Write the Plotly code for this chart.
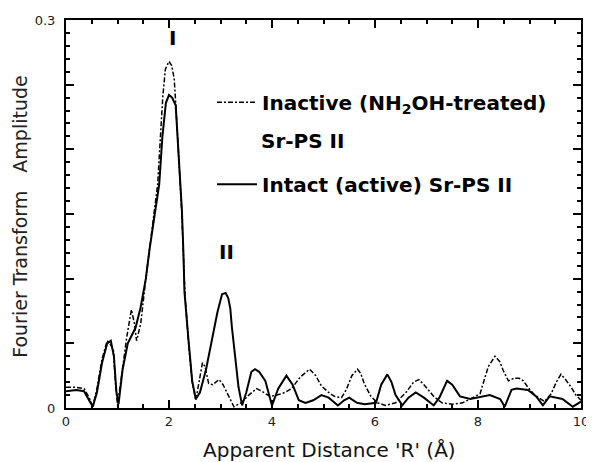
import plotly.graph_objects as go

# Intact (active) Sr-PS II  (solid)
r_intact = [0.00, 0.20, 0.35, 0.45, 0.52, 0.60, 0.70, 0.80, 0.87, 0.93, 0.98, 1.02, 1.10, 1.20, 1.35, 1.45,
            1.55, 1.62, 1.70, 1.81, 1.87, 1.94, 2.00, 2.06, 2.13, 2.20, 2.25, 2.28, 2.30, 2.38, 2.45, 2.52,
            2.60, 2.72, 2.84, 2.94, 3.03, 3.10, 3.15, 3.19, 3.22, 3.29, 3.35, 3.42, 3.50, 3.60, 3.67, 3.75,
            3.87, 4.00, 4.12, 4.28, 4.40, 4.52, 4.65, 4.80, 4.96, 5.10, 5.28, 5.40, 5.50, 5.65, 5.80, 6.02,
            6.12, 6.24, 6.32, 6.40, 6.53, 6.65, 6.79, 6.95, 7.14, 7.25, 7.40, 7.50, 7.65, 7.85, 8.00, 8.23,
            8.43, 8.52, 8.65, 8.75, 8.97, 9.13, 9.26, 9.39, 9.64, 9.84, 10.0]
a_intact = [0.013, 0.014, 0.013, 0.006, 0.001, 0.012, 0.035, 0.050, 0.052, 0.040, 0.012, 0.003, 0.030, 0.050, 0.062, 0.078,
            0.100, 0.122, 0.145, 0.173, 0.209, 0.236, 0.242, 0.240, 0.234, 0.191, 0.153, 0.120, 0.090, 0.052, 0.021, 0.007,
            0.012, 0.030, 0.053, 0.074, 0.088, 0.089, 0.085, 0.077, 0.063, 0.036, 0.016, 0.002, 0.012, 0.028, 0.030, 0.028,
            0.021, 0.002, 0.015, 0.025, 0.018, 0.006, 0.004, 0.006, 0.010, 0.008, 0.002, 0.006, 0.008, 0.004, 0.003, 0.004,
            0.018, 0.026, 0.020, 0.010, 0.002, 0.008, 0.012, 0.008, 0.002, 0.008, 0.021, 0.018, 0.009, 0.007, 0.008, 0.010,
            0.007, 0.001, 0.014, 0.015, 0.014, 0.009, 0.002, 0.009, 0.007, 0.001, 0.005]

# Inactive (NH2OH-treated) Sr-PS II  (dash-dot)
r_inactive = [0.00, 0.20, 0.35, 0.45, 0.52, 0.60, 0.70, 0.80, 0.85, 0.92, 0.96, 1.00, 1.08, 1.18, 1.27, 1.33,
              1.37, 1.45, 1.55, 1.68, 1.78, 1.84, 1.88, 1.93, 2.00, 2.05, 2.10, 2.13, 2.20, 2.25, 2.28, 2.31,
              2.38, 2.45, 2.52, 2.58, 2.65, 2.70, 2.77, 2.85, 2.97, 3.05, 3.16, 3.26, 3.40, 3.55, 3.70, 3.80,
              3.96, 4.10, 4.25, 4.38, 4.55, 4.73, 4.85, 4.96, 5.10, 5.21, 5.35, 5.44, 5.55, 5.66, 5.72, 5.79,
              5.92, 6.05, 6.20, 6.40, 6.60, 6.75, 6.85, 6.95, 7.14, 7.30, 7.50, 7.70, 7.90, 8.04, 8.10, 8.20,
              8.33, 8.42, 8.49, 8.59, 8.70, 8.80, 8.88, 8.97, 9.10, 9.20, 9.29, 9.42, 9.52, 9.61, 9.70, 9.81,
              9.90, 10.0]
a_inactive = [0.016, 0.016, 0.015, 0.008, 0.001, 0.015, 0.038, 0.052, 0.050, 0.045, 0.020, 0.002, 0.025, 0.055, 0.076, 0.065,
              0.052, 0.065, 0.100, 0.140, 0.173, 0.214, 0.241, 0.262, 0.268, 0.265, 0.255, 0.236, 0.190, 0.150, 0.118, 0.088,
              0.050, 0.020, 0.006, 0.020, 0.035, 0.032, 0.019, 0.018, 0.022, 0.018, 0.009, 0.001, 0.004, 0.010, 0.015, 0.013,
              0.009, 0.010, 0.012, 0.015, 0.024, 0.030, 0.025, 0.017, 0.012, 0.009, 0.008, 0.014, 0.025, 0.030, 0.027, 0.019,
              0.009, 0.004, 0.002, 0.004, 0.012, 0.020, 0.022, 0.018, 0.009, 0.004, 0.003, 0.004, 0.008, 0.011, 0.019, 0.032,
              0.040, 0.036, 0.029, 0.021, 0.023, 0.023, 0.021, 0.016, 0.010, 0.007, 0.005, 0.011, 0.020, 0.026, 0.022, 0.016,
              0.010, 0.006]

x_ticks = [0, 2, 4, 6, 8, 10]
y_ticks = [0, 0.05, 0.10, 0.15, 0.20, 0.25, 0.30]
y_ticktext = ["0", "", "", "", "", "", "0.3"]

fig = go.Figure()
fig.add_trace(go.Scatter(
    x=r_inactive, y=a_inactive, mode="lines", legendgroup="a",
    name="Inactive (NH<sub>2</sub>OH-treated)",
    line=dict(color="black", width=1.5, dash="5px,2px,2px,2px"),
))
fig.add_trace(go.Scatter(
    x=r_intact, y=a_intact, mode="lines", legendgroup="b",
    name="Intact (active) Sr-PS II",
    line=dict(color="black", width=2),
))

bold = dict(family="DejaVu Sans", size=20, color="black", weight="bold")
fig.add_annotation(x=2.06, y=0.286, text="I", showarrow=False, font=bold)
fig.add_annotation(x=3.12, y=0.121, text="II", showarrow=False, font=bold)
# second line of the first legend entry
fig.add_annotation(xref="paper", yref="paper", x=(261 - 66) / 519, y=(408 - 136) / 395,
                   xanchor="left", yanchor="middle", text="Sr-PS II", showarrow=False, font=bold)

fig.add_annotation(xref="paper", yref="paper", x=(20 - 66) / 519, y=(408 - 213) / 395,
                   xanchor="center", yanchor="middle", textangle=-90,
                   text="Fourier Transform&nbsp;&nbsp; Amplitude", showarrow=False,
                   font=dict(family="DejaVu Sans", size=19, color="#222"))
fig.add_annotation(xref="paper", yref="paper", x=(332 - 66) / 519, y=(408 - 451) / 395,
                   xanchor="center", yanchor="middle",
                   text="Apparent Distance 'R' (Å)", showarrow=False,
                   font=dict(family="DejaVu Sans", size=20, color="#111"))

axis_common = dict(
    showline=True, linecolor="black", linewidth=2, mirror="ticks",
    ticks="inside", tickcolor="black", tickwidth=2, ticklen=8,
    showgrid=False, zeroline=False, ticklabeloverflow="allow",
    tickfont=dict(family="DejaVu Sans", size=13, color="#222"),
)

fig.update_xaxes(range=[0, 10], tickmode="array", tickvals=x_ticks,
                 minor=dict(ticks="inside", tickmode="linear", tick0=0, dtick=0.5,
                            ticklen=4, tickwidth=2, tickcolor="black"),
                 **axis_common)
fig.update_yaxes(range=[0, 0.3], tickmode="array", tickvals=y_ticks, ticktext=y_ticktext,
                 ticklabelstandoff=6,
                 minor=dict(ticks="inside", tickmode="linear", tick0=0, dtick=0.01,
                            ticklen=4, tickwidth=2, tickcolor="black"),
                 **axis_common)

# page body has an 8px default margin: figure occupies 8..594 x 8..462
fig.update_layout(
    width=586, height=454,
    margin=dict(l=58, r=9, t=5, b=54),
    paper_bgcolor="white", plot_bgcolor="white",
    showlegend=True,
    legend=dict(x=0.2835, y=(408 - 77) / 395, xanchor="left", yanchor="top",
                bgcolor="rgba(0,0,0,0)", borderwidth=0,
                tracegroupgap=53, itemwidth=40,
                font=bold),
)

fig.write_html("out.html")
